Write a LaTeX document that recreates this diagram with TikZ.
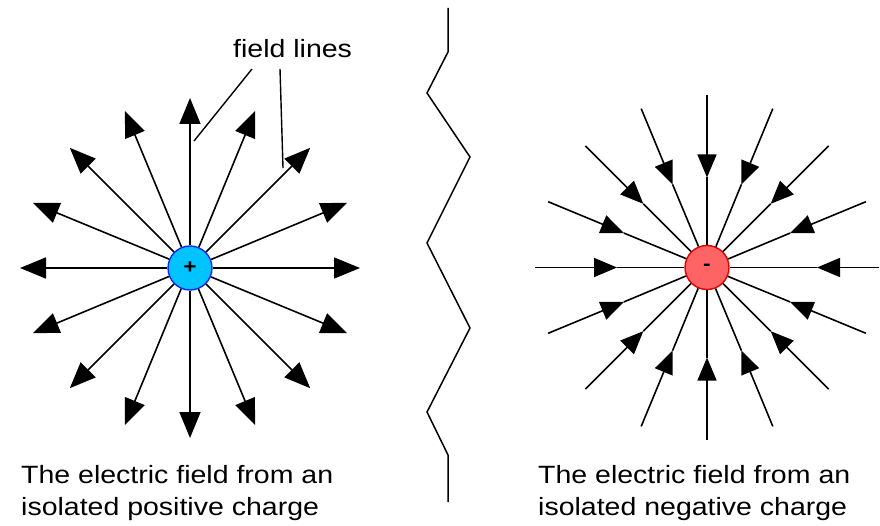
\documentclass[tikz,border=0pt]{standalone}
\usepackage{fontspec}
\setmainfont{Liberation Sans}[FakeStretch=1.14]
\usetikzlibrary{arrows.meta,calc}
\definecolor{poscol}{RGB}{0,195,255}
\definecolor{posedge}{RGB}{20,40,240}
\definecolor{negcol}{RGB}{255,100,100}
\definecolor{negedge}{RGB}{225,0,0}
\begin{document}
\begin{tikzpicture}[x=1pt,y=-1pt,
  fline/.style={line width=1.6pt,black},
  outhead/.style={-{Triangle[length=26pt,width=21pt]}},
  inhead/.style={-{Triangle[length=23pt,width=19pt]}},
  charge/.style={circle,minimum size=44pt,inner sep=0pt,line width=1.4pt,font=\fontsize{20}{20}\selectfont\bfseries},
  lbl/.style={inner sep=0pt,anchor=base west,font=\fontsize{25}{30}\selectfont},
  leader/.style={line width=1.4pt,black}]
\useasboundingbox (0,0) rectangle (880,526);

% positive charge
\node[charge,fill=poscol,draw=posedge] (pos) at (190,268) {+};
\foreach \a [count=\i] in {0,22.5,...,337.5}{
  \coordinate (pe\i) at ($(pos.center)+(\a:170pt)$);
  \draw[fline,outhead] (pos.\a) -- (pe\i);
}

% negative charge
\node[charge,fill=negcol,draw=negedge] (neg) at (707,267.5) {-};
\foreach \a [count=\i] in {0,22.5,...,337.5}{
  \pgfmathsetmacro{\tipd}{ifthenelse(\a==0,110,90)}
  \coordinate (no\i) at ($(neg.center)+(\a:172pt)$);
  \coordinate (nm\i) at ($(neg.center)+(\a:\tipd pt)$);
  \draw[fline,inhead] (no\i) -- (nm\i);
  \draw[fline] (nm\i) -- (neg.\a);
}

% zigzag separator
\draw[line width=1.5pt] (448,8) -- (448,52) -- (427,93) -- (470,157) -- (427,243)
  -- (470,328) -- (427,412) -- (448,455) -- (448,502);

% field lines label
\node[lbl] (fl) at (233,58) {field lines};
\coordinate (l1a) at (252,69);
\coordinate (l1b) at (194,141);
\coordinate (l2a) at (280,69);
\coordinate (l2b) at (283,168);
\draw[leader] (l1a) -- (l1b);
\draw[leader] (l2a) -- (l2b);

% captions
\node[lbl] (c1) at (21,483) {The electric field from an};
\node[lbl] (c2) at (21,515) {isolated positive charge};
\node[lbl] (c3) at (538,483) {The electric field from an};
\node[lbl] (c4) at (538,515) {isolated negative charge};
\end{tikzpicture}
\end{document}
